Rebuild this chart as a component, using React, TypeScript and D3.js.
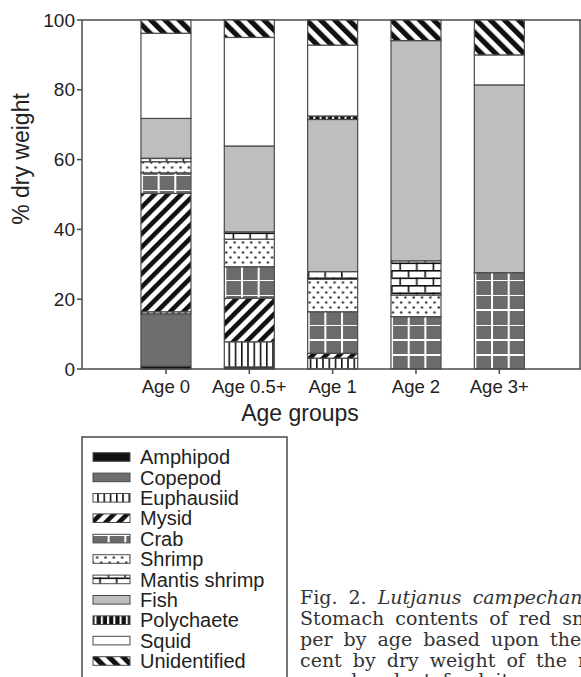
import React from 'react';
import * as d3 from 'd3';

// age classes on the x axis
const ages = ['Age 0', 'Age 0.5+', 'Age 1', 'Age 2', 'Age 3+'];

// % dry weight of each prey item, per age class
const amphipod = [0.8, 0.6, 0, 0, 0];
const copepod = [15.0, 0, 0, 0, 0];
const euphausiid = [0.6, 7.2, 3.1, 0, 0];
const mysid = [33.9, 12.5, 1.4, 0, 0];
const crab = [5.9, 9.0, 11.9, 15.0, 27.6];
const shrimp = [3.2, 7.9, 9.3, 6.2, 0];
const mantisShrimp = [1.0, 2.1, 2.2, 9.8, 0];
const fish = [11.4, 24.6, 43.6, 63.1, 53.8];
const polychaete = [0, 0, 1.0, 0, 0];
const squid = [24.4, 31.1, 20.3, 0, 8.6];
const unidentified = [3.8, 5.0, 7.2, 5.9, 10.0];

const yTicks = [0, 20, 40, 60, 80, 100];

const series = [
    { key: 'Amphipod', values: amphipod, fill: '#111' },
    { key: 'Copepod', values: copepod, fill: '#6e6e6e' },
    { key: 'Euphausiid', values: euphausiid, fill: 'url(#p-euph)' },
    { key: 'Mysid', values: mysid, fill: 'url(#p-mysid)' },
    { key: 'Crab', values: crab, fill: 'url(#p-crab)' },
    { key: 'Shrimp', values: shrimp, fill: 'url(#p-shrimp)' },
    { key: 'Mantis shrimp', values: mantisShrimp, fill: 'url(#p-mantis)' },
    { key: 'Fish', values: fish, fill: '#bebebe' },
    { key: 'Polychaete', values: polychaete, fill: 'url(#p-poly)' },
    { key: 'Squid', values: squid, fill: '#fff' },
    { key: 'Unidentified', values: unidentified, fill: 'url(#p-unid)' },
];

const W = 581;
const H = 677;
const sans = "'Liberation Sans', Arial, sans-serif";
const serif = "'DejaVu Serif', serif";
const ink = '#4a4a4a';

export default function App() {
    const x = d3.scaleBand<string>()
        .domain(ages)
        .range([124.3, 541])
        .paddingInner(0.4)
        .paddingOuter(0.2);
    const y = d3.scaleLinear().domain([0, 100]).range([369, 20]);

    const rows = ages.map((a, i) => {
        const r: Record<string, number | string> = { age: a };
        series.forEach(s => { r[s.key] = s.values[i]; });
        return r;
    });
    const stacked = d3.stack<any>().keys(series.map(s => s.key))(rows);

    const x0 = x(ages[0]) || 0;

    return (
        <svg width={W} height={H} style={{ position: 'absolute', left: 0, top: 0, background: '#fff' }}>
            <defs>
                <pattern id="p-euph" patternUnits="userSpaceOnUse" x={x0} width={6.25} height={10}>
                    <rect width={6.25} height={10} fill="#fff" />
                    <rect x={0} width={1.6} height={10} fill="#111" />
                </pattern>
                <pattern id="p-poly" patternUnits="userSpaceOnUse" x={x0} width={6.25} height={10}>
                    <rect width={6.25} height={10} fill="#111" />
                    <rect x={3.6} width={2} height={10} fill="#fff" />
                </pattern>
                <pattern id="p-mysid" patternUnits="userSpaceOnUse" width={9.4} height={9.4} patternTransform="rotate(45)">
                    <rect width={9.4} height={9.4} fill="#fff" />
                    <rect width={4.6} height={9.4} fill="#111" />
                </pattern>
                <pattern id="p-unid" patternUnits="userSpaceOnUse" width={10} height={10} patternTransform="rotate(-45)">
                    <rect width={10} height={10} fill="#fff" />
                    <rect width={5.2} height={10} fill="#111" />
                </pattern>
                <pattern id="p-crab" patternUnits="userSpaceOnUse" x={x0} y={369} width={16.67} height={15}>
                    <rect width={16.67} height={15} fill="#6b6b6b" />
                    <rect x={0} width={2} height={15} fill="#fff" />
                    <rect y={0} width={16.67} height={2} fill="#fff" />
                </pattern>
                <pattern id="p-shrimp" patternUnits="userSpaceOnUse" x={x0} width={8.33} height={10}>
                    <rect width={8.33} height={10} fill="#fff" />
                    <circle cx={2} cy={2.5} r={1.3} fill="#444" />
                    <circle cx={6.2} cy={7.5} r={1.3} fill="#444" />
                </pattern>
                <pattern id="p-mantis" patternUnits="userSpaceOnUse" x={x0} width={16.67} height={15}>
                    <rect width={16.67} height={15} fill="#fff" />
                    <rect y={0} width={16.67} height={1.6} fill="#111" />
                    <rect y={7.5} width={16.67} height={1.6} fill="#111" />
                    <rect x={0} y={0} width={1.6} height={7.5} fill="#111" />
                    <rect x={8.33} y={7.5} width={1.6} height={7.5} fill="#111" />
                </pattern>
            </defs>

            {/* frame */}
            <line x1={82} x2={W} y1={20} y2={20} stroke={ink} strokeWidth={1.5} />
            <line x1={580} x2={580} y1={20} y2={369} stroke={ink} strokeWidth={1.5} />

            {/* stacked bars */}
            {stacked.map((layer, li) => (
                <g key={layer.key}>
                    {layer.map((d, i) => {
                        const h = y(d[0]) - y(d[1]);
                        if (h <= 0) return null;
                        return (
                            <rect key={i} x={x(ages[i])} y={y(d[1])} width={x.bandwidth()} height={h}
                                fill={series[li].fill} stroke={ink} strokeWidth={1.2} />
                        );
                    })}
                </g>
            ))}

            {/* y axis */}
            <line x1={82} x2={82} y1={20} y2={369} stroke={ink} strokeWidth={1.5} />
            {yTicks.map(t => (
                <g key={t}>
                    <line x1={77} x2={82} y1={y(t)} y2={y(t)} stroke={ink} strokeWidth={1.5} />
                    <text x={75} y={y(t)} dy="0.35em" textAnchor="end" fontFamily={sans} fontSize={19} fill="#222">{t}</text>
                </g>
            ))}
            <text transform="translate(29,159) rotate(-90)" textAnchor="middle" fontFamily={sans} fontSize={23} fill="#222">% dry weight</text>

            {/* x axis */}
            <line x1={82} x2={W} y1={369} y2={369} stroke={ink} strokeWidth={1.5} />
            {ages.map(a => {
                const cx = (x(a) || 0) + x.bandwidth() / 2;
                return (
                    <g key={a}>
                        <line x1={cx} x2={cx} y1={369} y2={374} stroke={ink} strokeWidth={1.5} />
                        <text x={cx} y={393} textAnchor="middle" fontFamily={sans} fontSize={18.5} fill="#222">{a}</text>
                    </g>
                );
            })}
            <text x={300} y={421} textAnchor="middle" fontFamily={sans} fontSize={23} fill="#222">Age groups</text>

            {/* legend */}
            <rect x={82} y={437} width={205} height={260} fill="none" stroke={ink} strokeWidth={1.5} />
            {series.map((s, i) => {
                const cy = 457 + i * 20.4;
                return (
                    <g key={s.key}>
                        <rect x={93} y={cy - 4.3} width={37} height={8.6} fill={s.fill} stroke={ink} strokeWidth={1} />
                        <text x={140} y={cy} dy="0.36em" fontFamily={sans} fontSize={20} fill="#222">{s.key}</text>
                    </g>
                );
            })}

            {/* caption */}
            <g fontFamily={serif} fontSize={19} fill="#333" wordSpacing={5}>
                <text x={300} y={604}>Fig. 2. <tspan fontStyle="italic">Lutjanus campechanus.</tspan></text>
                <text x={300} y={625}>Stomach contents of red snap-</text>
                <text x={300} y={646}>per by age based upon the per-</text>
                <text x={300} y={667}>cent by dry weight of the most</text>
                <text x={340} y={687}>abundant food items.</text>
            </g>
        </svg>
    );
}
